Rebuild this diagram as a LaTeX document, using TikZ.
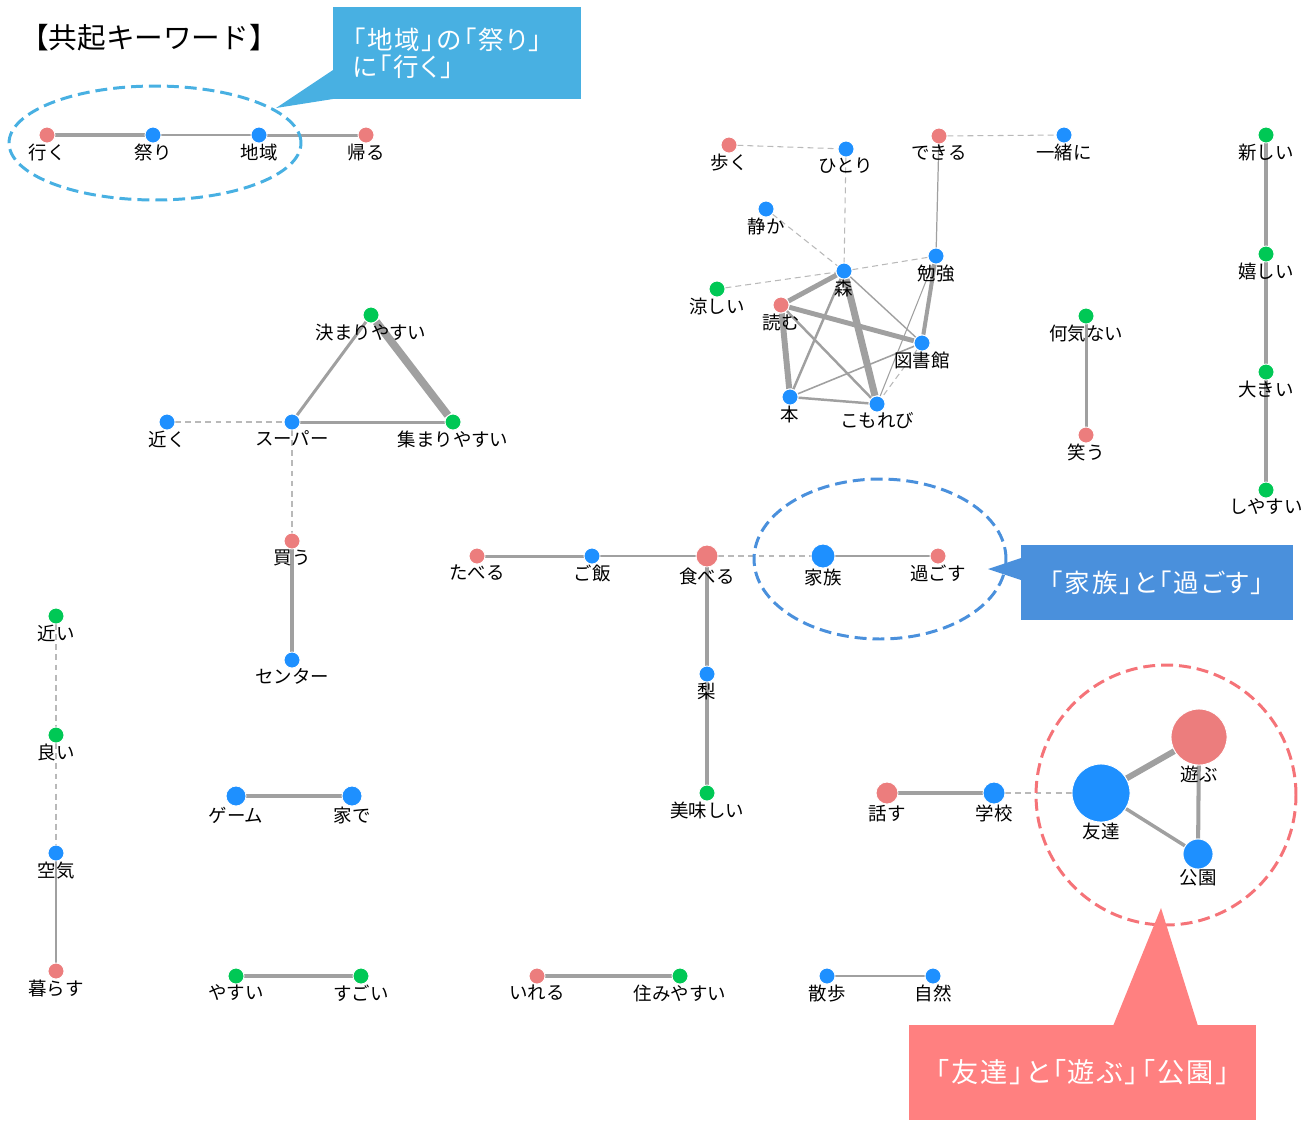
\documentclass[tikz,border=0pt]{standalone}
\usepackage{fontspec}
\setmainfont{Noto Sans CJK JP}
\newfontfamily\notefont[RawFeature=+palt, LetterSpace=8]{Noto Sans CJK JP}
\usepackage{xcolor}
\usetikzlibrary{backgrounds}
\definecolor{kwred}{RGB}{236,125,125}
\definecolor{kwblue}{RGB}{30,144,255}
\definecolor{kwgreen}{RGB}{0,200,85}
\definecolor{linkgray}{RGB}{160,160,160}
\definecolor{weakgray}{RGB}{185,185,185}
\definecolor{noteblue}{RGB}{72,176,226}
\definecolor{famblue}{RGB}{74,144,220}
\definecolor{notered}{RGB}{255,128,128}
\definecolor{ringred}{RGB}{245,115,120}

\begin{document}
\begin{tikzpicture}[
    x=0.02cm, y=-0.02cm,
    kw/.style={circle, fill=#1, draw=white, line width=0.5pt, minimum size=0.32cm, inner sep=0pt},
    lbl/.style={inner sep=0pt, font=\fontsize{10.5}{12}\selectfont},
    link/.style={draw=linkgray, line width=#1},
    weak/.style={draw=weakgray, dash pattern=on 3.4pt off 2.3pt, line width=0.6pt},
    ring/.style={dash pattern=on 6.8pt off 3.4pt, line width=1.7pt},
    note/.style={text=white, inner sep=0pt}
]
\useasboundingbox (0,0) rectangle (1310,1120);

% Title
\node[font=\fontsize{16.3}{18}\selectfont] (title) at (149,38) {【共起キーワード】};

% Festival group
\node[kw=kwred, label={[lbl]below:行く}] (iku) at (47,135) {};
\node[kw=kwblue, label={[lbl]below:祭り}] (matsuri) at (153,135) {};
\node[kw=kwblue, label={[lbl]below:地域}] (chiiki) at (259,135) {};
\node[kw=kwred, label={[lbl]below:帰る}] (kaeru) at (366,135) {};

% Forest group
\node[kw=kwred, label={[lbl]below:歩く}] (aruku) at (729,145) {};
\node[kw=kwblue, label={[lbl]below:ひとり}] (hitori) at (846,149) {};
\node[kw=kwred, label={[lbl]below:できる}] (dekiru) at (939,136) {};
\node[kw=kwblue, label={[lbl]below:一緒に}] (issho) at (1064,135) {};
\node[kw=kwblue, label={[lbl]below:静か}] (shizuka) at (766,209) {};
\node[kw=kwblue, label={[lbl]below:森}] (mori) at (844,271) {};
\node[kw=kwblue, label={[lbl]below:勉強}] (benkyo) at (936,256) {};
\node[kw=kwgreen, label={[lbl]below:涼しい}] (suzushii) at (717,289) {};
\node[kw=kwred, label={[lbl]below:読む}] (yomu) at (781,305) {};
\node[kw=kwblue, label={[lbl]below:図書館}] (toshokan) at (922,343) {};
\node[kw=kwblue, label={[lbl]below:本}] (hon) at (790,397) {};
\node[kw=kwblue, label={[lbl]below:こもれび}] (komorebi) at (877,404) {};

% Right column
\node[kw=kwgreen, label={[lbl]below:新しい}] (atarashii) at (1266,135) {};
\node[kw=kwgreen, label={[lbl]below:嬉しい}] (ureshii) at (1266,254) {};
\node[kw=kwgreen, label={[lbl]below:大きい}] (ookii) at (1266,372) {};
\node[kw=kwgreen, label={[lbl]below:しやすい}] (shiyasui) at (1266,490) {};
\node[kw=kwgreen, label={[lbl]below:何気ない}] (nanigenai) at (1086,316) {};
\node[kw=kwred, label={[lbl]below:笑う}] (warau) at (1086,435) {};

% Supermarket group
\node[kw=kwgreen, label={[lbl]below:決まりやすい}] (kimari) at (371,315) {};
\node[kw=kwblue, label={[lbl]below:近く}] (chikaku) at (167,422) {};
\node[kw=kwblue, label={[lbl]below:スーパー}] (super) at (292,422) {};
\node[kw=kwgreen, label={[lbl]below:集まりやすい}] (atsumari) at (453,422) {};
\node[kw=kwred, label={[lbl]below:買う}] (kau) at (292,541) {};
\node[kw=kwblue, label={[lbl]below:センター}] (center) at (292,660) {};

% Meal and family group
\node[kw=kwred, label={[lbl]below:たべる}] (taberuhira) at (477,556) {};
\node[kw=kwblue, label={[lbl]below:ご飯}] (gohan) at (592,556) {};
\node[kw=kwred, minimum size=0.44cm, label={[lbl]below:食べる}] (taberu) at (707,556) {};
\node[kw=kwblue, minimum size=0.48cm, label={[lbl]below:家族}] (kazoku) at (823,556) {};
\node[kw=kwred, label={[lbl]below:過ごす}] (sugosu) at (938,556) {};
\node[kw=kwblue, label={[lbl]below:梨}] (nashi) at (707,674) {};
\node[kw=kwgreen, label={[lbl]below:美味しい}] (oishii) at (707,793) {};

% Friends group
\node[kw=kwred, minimum size=0.44cm, label={[lbl]below:話す}] (hanasu) at (887,793) {};
\node[kw=kwblue, minimum size=0.44cm, label={[lbl]below:学校}] (gakko) at (994,793) {};
\node[kw=kwblue, minimum size=1.16cm, label={[lbl]below:友達}] (tomodachi) at (1101,793) {};
\node[kw=kwred, minimum size=1.12cm, label={[lbl]below:遊ぶ}] (asobu) at (1199,737) {};
\node[kw=kwblue, minimum size=0.6cm, label={[lbl]below:公園}] (koen) at (1198,854) {};

% Lower left pairs
\node[kw=kwgreen, label={[lbl]below:近い}] (chikai) at (56,616) {};
\node[kw=kwgreen, label={[lbl]below:良い}] (yoi) at (56,735) {};
\node[kw=kwblue, label={[lbl]below:空気}] (kuki) at (56,853) {};
\node[kw=kwred, label={[lbl]below:暮らす}] (kurasu) at (56,971) {};
\node[kw=kwblue, minimum size=0.4cm, label={[lbl]below:ゲーム}] (game) at (236,796) {};
\node[kw=kwblue, minimum size=0.4cm, label={[lbl]below:家で}] (iede) at (352,796) {};
\node[kw=kwgreen, label={[lbl]below:やすい}] (yasui) at (236,976) {};
\node[kw=kwgreen, label={[lbl]below:すごい}] (sugoi) at (361,976) {};
\node[kw=kwred, label={[lbl]below:いれる}] (ireru) at (537,976) {};
\node[kw=kwgreen, label={[lbl]below:住みやすい}] (sumiyasui) at (680,976) {};
\node[kw=kwblue, label={[lbl]below:散歩}] (sanpo) at (827,976) {};
\node[kw=kwblue, label={[lbl]below:自然}] (shizen) at (933,976) {};

% Co-occurrence links
\begin{scope}[on background layer]
\draw[link=2.3pt] (iku) -- (matsuri);
\draw[link=1.1pt] (matsuri) -- (chiiki);
\draw[link=1.7pt] (chiiki) -- (kaeru);

\draw[weak] (aruku) -- (hitori);
\draw[weak] (hitori) -- (mori);
\draw[weak] (dekiru) -- (issho);
\draw[link=0.7pt] (dekiru) -- (benkyo);
\draw[weak] (shizuka) -- (mori);
\draw[weak] (suzushii) -- (mori);
\draw[weak] (mori) -- (benkyo);
\draw[link=2.8pt] (mori) -- (yomu);
\draw[link=1.4pt] (mori) -- (hon);
\draw[link=4pt] (mori) -- (komorebi);
\draw[link=0.8pt] (mori) -- (toshokan);
\draw[link=2.8pt] (yomu) -- (toshokan);
\draw[link=3.4pt] (yomu) -- (hon);
\draw[link=1.4pt] (yomu) -- (komorebi);
\draw[link=2.3pt] (benkyo) -- (toshokan);
\draw[link=0.6pt] (benkyo) -- (komorebi);
\draw[link=0.9pt] (toshokan) -- (hon);
\draw[weak] (toshokan) -- (komorebi);
\draw[link=1.4pt] (hon) -- (komorebi);

\draw[link=2.8pt] (atarashii) -- (ureshii);
\draw[link=2.3pt] (ureshii) -- (ookii);
\draw[link=2.8pt] (ookii) -- (shiyasui);
\draw[link=1.7pt] (nanigenai) -- (warau);

\draw[link=1.7pt] (kimari) -- (super);
\draw[link=4.5pt] (kimari) -- (atsumari);
\draw[link=1.7pt] (super) -- (atsumari);
\draw[weak] (chikaku) -- (super);
\draw[weak] (super) -- (kau);
\draw[link=2.3pt] (kau) -- (center);

\draw[link=1.7pt] (taberuhira) -- (gohan);
\draw[link=0.9pt] (gohan) -- (taberu);
\draw[weak] (taberu) -- (kazoku);
\draw[link=1.2pt] (kazoku) -- (sugosu);
\draw[link=2.3pt] (taberu) -- (nashi);
\draw[link=2.8pt] (nashi) -- (oishii);

\draw[link=2.3pt] (hanasu) -- (gakko);
\draw[weak] (gakko) -- (tomodachi);
\draw[link=3.4pt] (tomodachi) -- (asobu);
\draw[link=2pt] (tomodachi) -- (koen);
\draw[link=2.3pt] (asobu) -- (koen);

\draw[weak] (chikai) -- (yoi);
\draw[weak] (yoi) -- (kuki);
\draw[link=1.7pt] (kuki) -- (kurasu);
\draw[link=2.3pt] (game) -- (iede);
\draw[link=2.3pt] (yasui) -- (sugoi);
\draw[link=2.3pt] (ireru) -- (sumiyasui);
\draw[link=1.4pt] (sanpo) -- (shizen);
\end{scope}

% Highlight rings
\draw[ring, noteblue] (155,143) ellipse [x radius=2.92cm, y radius=1.14cm];
\draw[ring, famblue] (880,559) ellipse [x radius=2.52cm, y radius=1.6cm];
\draw[ring, ringred] (1166,795) circle [radius=2.6cm];

% Callouts
\fill[noteblue] (333,70) -- (276,108) -- (333,99) -- cycle;
\node[note, fill=noteblue, anchor=north west, minimum width=4.96cm, minimum height=1.84cm,
      inner xsep=0.38cm, text width=4.2cm, align=left, font=\notefont\fontsize{14.5}{15.9}\selectfont]
      (festnote) at (333,7) {「地域」の「祭り」\\に「行く」};

\fill[famblue] (1021,558) -- (988,569) -- (1021,580) -- cycle;
\node[note, fill=famblue, minimum width=5.44cm, minimum height=1.5cm,
      font=\notefont\fontsize{14.5}{16}\selectfont] (famnote) at (1157,582.5) {「家族」と「過ごす」};

\fill[notered] (1113,1026) -- (1161,908) -- (1198,1026) -- cycle;
\node[note, fill=notered, minimum width=6.94cm, minimum height=1.9cm,
      font=\notefont\fontsize{15.5}{17}\selectfont] (friendnote) at (1082.5,1072.5) {「友達」と「遊ぶ」「公園」};

\end{tikzpicture}
\end{document}
